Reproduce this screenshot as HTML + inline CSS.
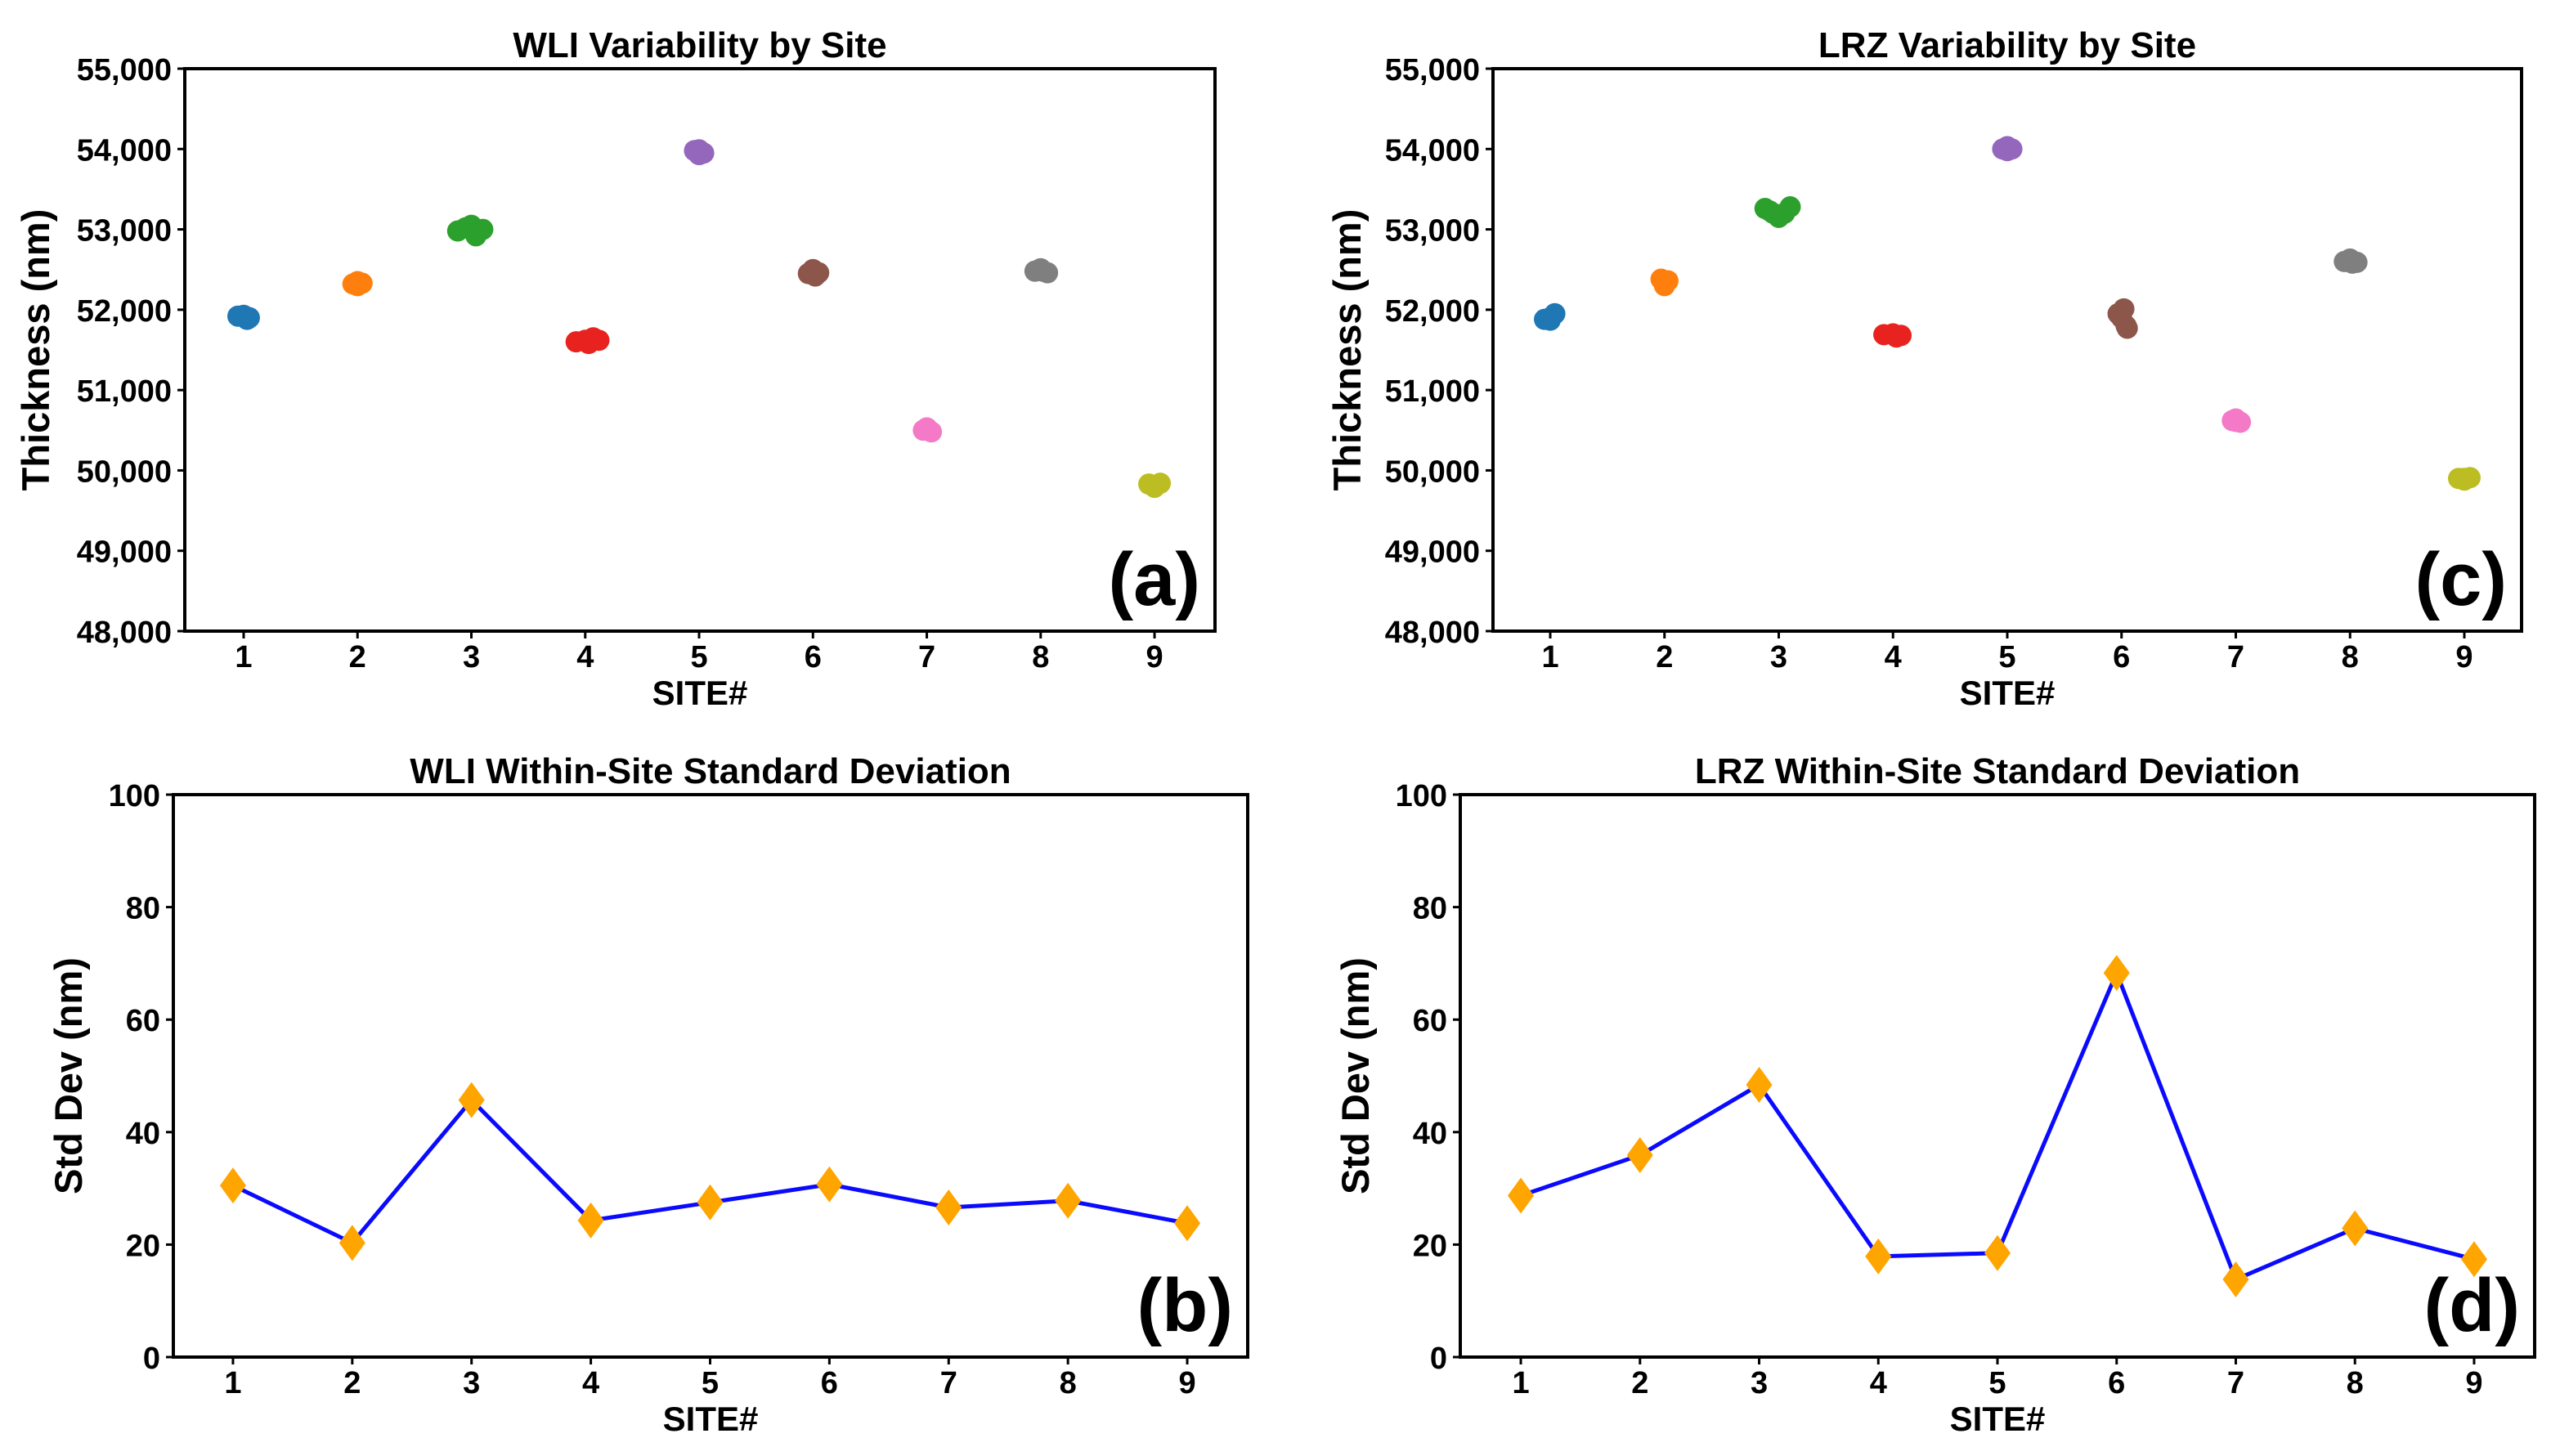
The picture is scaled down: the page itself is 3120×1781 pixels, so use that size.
<!DOCTYPE html>
<html><head><meta charset="utf-8">
<style>
html,body{margin:0;padding:0;background:#fff;}
svg{display:block;}
text{font-family:"Liberation Sans",sans-serif;font-weight:bold;fill:#000;}
</style></head>
<body>
<svg id="fig" width="3120" height="1781" viewBox="0 0 3120 1781" xmlns="http://www.w3.org/2000/svg"></svg>
<script>
const sites = [1,2,3,4,5,6,7,8,9];
const thickTicks = [48000,49000,50000,51000,52000,53000,54000,55000];
const thickTickLabels = ["48,000","49,000","50,000","51,000","52,000","53,000","54,000","55,000"];
const sdTicks = [0,20,40,60,80,100];
const siteColors = ["#1f77b4","#ff7f0e","#2ca02c","#e8231f","#9467bd","#8c564b","#f47ac8","#7f7f7f","#bcbd22"];
// WLI measurements per site: [xOffset, value]
const wliPoints = [
  [[-0.05,51920],[0.03,51880],[0.0,51930],[0.05,51900]],
  [[-0.04,52320],[0.0,52350],[0.04,52330],[0.0,52300]],
  [[-0.12,52980],[-0.05,53020],[0.0,53050],[0.05,52960],[0.1,53000],[0.04,52920]],
  [[-0.08,51600],[0.0,51620],[0.07,51650],[0.12,51620],[0.03,51580]],
  [[-0.04,53980],[0.0,53930],[0.04,53950],[0.0,53990]],
  [[-0.04,52450],[0.0,52500],[0.05,52460],[0.02,52420]],
  [[-0.03,50500],[0.0,50530],[0.04,50480],[0.0,50500]],
  [[-0.05,52480],[0.0,52510],[0.06,52460],[0.02,52480]],
  [[-0.05,49830],[0.0,49810],[0.05,49840],[0.0,49790]]
];
const lrzPoints = [
  [[-0.05,51880],[0.0,51900],[0.04,51950],[0.0,51870]],
  [[-0.03,52380],[0.0,52330],[0.03,52360],[0.0,52300]],
  [[-0.12,53260],[-0.05,53200],[0.0,53150],[0.05,53200],[0.1,53280],[-0.08,53230]],
  [[-0.08,51690],[0.0,51700],[0.07,51680],[0.03,51660]],
  [[-0.04,54000],[0.0,54030],[0.04,54000],[0.0,53980]],
  [[-0.03,51950],[0.02,52010],[0.0,51900],[0.04,51800],[0.05,51770]],
  [[-0.03,50620],[0.0,50640],[0.04,50600],[0.0,50610]],
  [[-0.05,52600],[0.0,52630],[0.06,52590],[0.02,52580]],
  [[-0.05,49900],[0.0,49880],[0.05,49910],[0.0,49900]]
];
const wliStd = [30.5,20.3,45.7,24.3,27.5,30.7,26.6,27.8,23.8];
const lrzStd = [28.7,35.9,48.4,17.9,18.5,68.3,13.8,22.9,17.4];

const NS="http://www.w3.org/2000/svg";
const svg=document.getElementById('fig');
function el(tag,attrs,parent,txt){const e=document.createElementNS(NS,tag);for(const k in attrs)e.setAttribute(k,attrs[k]);if(txt!==undefined)e.textContent=txt;(parent||svg).appendChild(e);return e;}

function panel(cfg){
  const g=el('g',{});
  
  
  const xs=v=>cfg.x0+(v-cfg.xmin)/(cfg.xmax-cfg.xmin)*(cfg.x1-cfg.x0);
  const ys=v=>cfg.y1-(v-cfg.ymin)/(cfg.ymax-cfg.ymin)*(cfg.y1-cfg.y0);
  cfg.draw(g,xs,ys);
  const fr=el('rect',{x:cfg.x0,y:cfg.y0,width:cfg.x1-cfg.x0,height:cfg.y1-cfg.y0,fill:'none',stroke:'#000','stroke-width':4},g);
  
  
  cfg.yt.forEach((v,i)=>{
    const y=ys(v);
    el('line',{x1:cfg.x0-9,x2:cfg.x0,y1:y,y2:y,stroke:'#000','stroke-width':3},g);
    const t=el('text',{x:cfg.x0-16,y:y+14,'text-anchor':'end','font-size':38},g,cfg.ytl[i]);
    
    
  });
  sites.forEach(s=>{
    const x=xs(s);
    el('line',{x1:x,x2:x,y1:cfg.y1,y2:cfg.y1+9,stroke:'#000','stroke-width':3},g);
    const t=el('text',{x:x,y:cfg.y1+44,'text-anchor':'middle','font-size':38},g,String(s));
    
    
  });
  const tt=el('text',{x:(cfg.x0+cfg.x1)/2,y:cfg.y0-14,'text-anchor':'middle','font-size':44},g,cfg.title);
  
  
  const xl=el('text',{x:(cfg.x0+cfg.x1)/2,y:cfg.y1+90,'text-anchor':'middle','font-size':42},g,'SITE#');
  
  
  const yl=el('text',{x:0,y:0,'text-anchor':'middle','font-size':47,'font-family':'DejaVu Sans',transform:`translate(${cfg.ylx},${(cfg.y0+cfg.y1)/2}) rotate(-90)`},g,cfg.ylabel);
  
  
  const pl=el('text',{x:cfg.x1-18,y:cfg.y1-32,'text-anchor':'end','font-size':92},g,cfg.tag);
  
  
}

function scatterDraw(points){
  return (g,xs,ys)=>{
    points.forEach((arr,i)=>{
      arr.forEach(p=>{
        const c=el('circle',{cx:xs(sites[i]+p[0]),cy:ys(p[1]),r:13,fill:siteColors[i]},g);
        
        
      });
    });
  };
}
function lineDraw(vals){
  return (g,xs,ys)=>{
    const pts=vals.map((v,i)=>xs(sites[i])+','+ys(v)).join(' ');
    const pl=el('polyline',{points:pts,fill:'none',stroke:'#0a0aff','stroke-width':5},g);
    
    
    vals.forEach((v,i)=>{
      const x=xs(sites[i]),y=ys(v);
      const d=el('polygon',{points:`${x},${y-22} ${x+16},${y} ${x},${y+22} ${x-16},${y}`,fill:'#ffa500'},g);
      
      
    });
  };
}

panel({name:'wli-variability-chart',x0:226,x1:1486,y0:84,y1:772,xmin:0.483,xmax:9.531,ymin:48000,ymax:55000,yt:thickTicks,ytl:thickTickLabels,title:'WLI Variability by Site',ylabel:'Thickness (nm)',ylx:60,tag:'(a)',draw:scatterDraw(wliPoints)});
panel({name:'lrz-variability-chart',x0:1826,x1:3084,y0:84,y1:772,xmin:0.499,xmax:9.501,ymin:48000,ymax:55000,yt:thickTicks,ytl:thickTickLabels,title:'LRZ Variability by Site',ylabel:'Thickness (nm)',ylx:1664,tag:'(c)',draw:scatterDraw(lrzPoints)});
panel({name:'wli-std-dev-chart',x0:212,x1:1526,y0:972,y1:1660,xmin:0.5,xmax:9.507,ymin:0,ymax:100,yt:sdTicks,ytl:sdTicks.map(String),title:'WLI Within-Site Standard Deviation',ylabel:'Std Dev (nm)',ylx:100,tag:'(b)',draw:lineDraw(wliStd)});
panel({name:'lrz-std-dev-chart',x0:1786,x1:3100,y0:972,y1:1660,xmin:0.492,xmax:9.508,ymin:0,ymax:100,yt:sdTicks,ytl:sdTicks.map(String),title:'LRZ Within-Site Standard Deviation',ylabel:'Std Dev (nm)',ylx:1674,tag:'(d)',draw:lineDraw(lrzStd)});
</script>
</body></html>
